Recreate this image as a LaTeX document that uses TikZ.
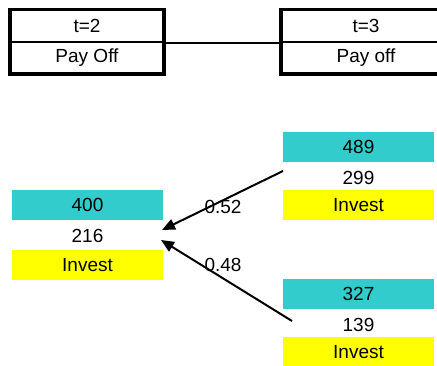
\documentclass[tikz,border=0pt]{standalone}
\usepackage{fontspec}
\setmainfont{Liberation Sans}
\usetikzlibrary{arrows.meta}
\definecolor{tealfill}{HTML}{33CCCC}
\definecolor{yellowfill}{HTML}{FFFF00}
\begin{document}
\begin{tikzpicture}[x=1pt,y=-1pt,
  every node/.style={font=\fontsize{19}{22}\selectfont, inner sep=0pt},
  hdrcell/.style={draw, line width=2pt, minimum width=152pt, minimum height=31.5pt, anchor=center},
  hdrframe/.style={line width=3.2pt},
  valcell/.style={minimum width=151pt, minimum height=30pt, anchor=center},
  tealcell/.style={valcell, fill=tealfill},
  yellowcell/.style={valcell, fill=yellowfill},
  probarrow/.style={line width=2pt, -{Triangle[length=13pt,width=11pt]}},
  problabel/.style={anchor=center}]
  \useasboundingbox (0,0) rectangle (437,366);

  % period headers
  \node[hdrcell] (t2) at (87,26) {t=2};
  \node[hdrcell] (pay2) at (87,57.5) {Pay Off};
  \draw[hdrframe] (t2.north west) rectangle (pay2.south east);

  \node[hdrcell, minimum width=168pt] (t3) at (366,26) {t=3};
  \node[hdrcell, minimum width=168pt] (pay3) at (366,57.5) {Pay off};
  \draw[hdrframe] (t3.north west) rectangle (pay3.south east);

  \draw[line width=2.2pt] (t2.south east) -- (t3.south west);

  % node at t=2
  \node[tealcell] (v400) at (87.5,205) {400};
  \node[valcell] (v216) at (87.5,236) {216};
  \node[yellowcell] (inv2) at (87.5,265) {Invest};

  % upper node at t=3
  \node[tealcell] (v489) at (358.5,147) {489};
  \node[valcell] (v299) at (358.5,178) {299};
  \node[yellowcell] (inv3u) at (358.5,205) {Invest};

  % lower node at t=3
  \node[tealcell] (v327) at (358.5,294) {327};
  \node[valcell] (v139) at (358.5,325) {139};
  \node[yellowcell] (inv3d) at (358.5,352) {Invest};

  % arrow end points
  \coordinate (upstart) at (283,171);
  \coordinate (uptip) at (162,230);
  \coordinate (downstart) at (292,321);
  \coordinate (downtip) at (161,240);

  \draw[probarrow] (upstart) -- (uptip);
  \draw[probarrow] (downstart) -- (downtip);

  \node[problabel] (p052) at (223,207) {0.52};
  \node[problabel] (p048) at (223,265) {0.48};
\end{tikzpicture}
\end{document}
